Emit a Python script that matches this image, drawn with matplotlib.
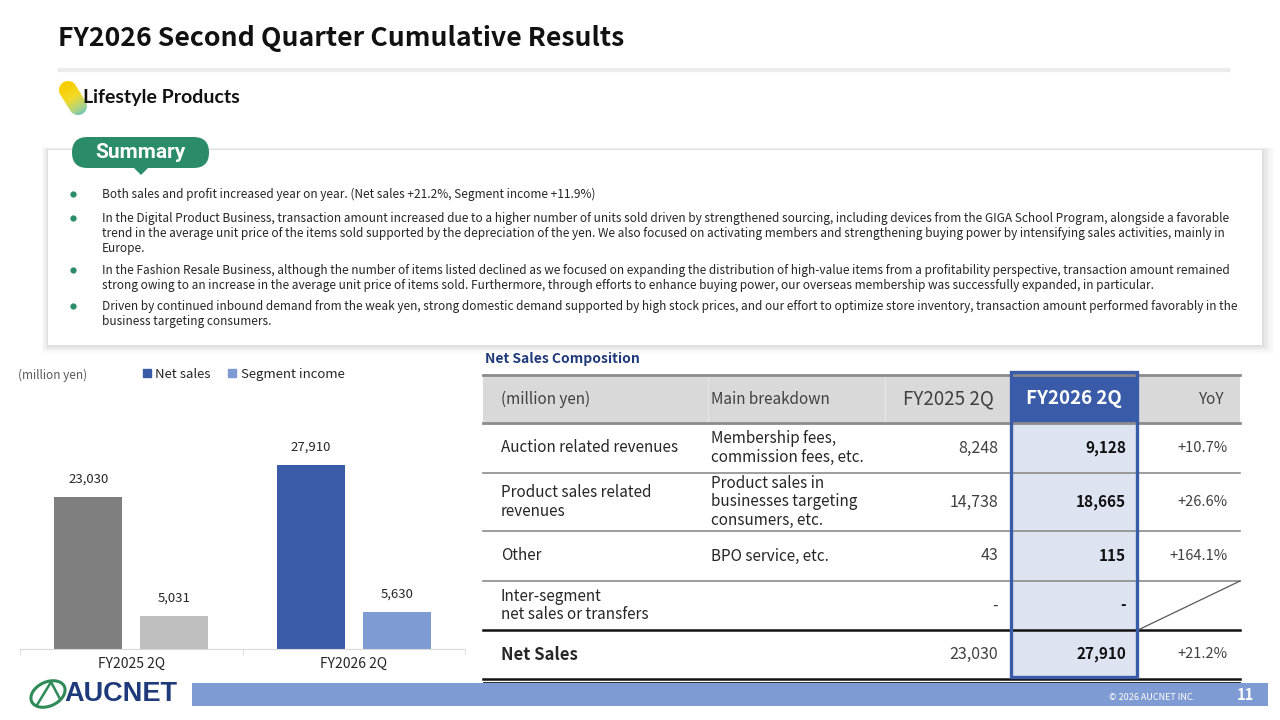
import numpy as np
import matplotlib
matplotlib.use("Agg")
import matplotlib.pyplot as plt
from matplotlib.patches import Rectangle, FancyBboxPatch, Ellipse, Polygon, Patch
from matplotlib.colors import LinearSegmentedColormap

plt.rcParams['font.family'] = ['Noto Sans CJK JP', 'DejaVu Sans']

# ---- data ----
periods = ["FY2025 2Q", "FY2026 2Q"]
net_sales = [23030, 27910]
segment_income = [5031, 5630]

row_labels = ["Auction related revenues", "Product sales related\nrevenues", "Other",
              "Inter-segment\nnet sales or transfers", "Net Sales"]
breakdown = ["Membership fees,\ncommission fees, etc.",
             "Product sales in\nbusinesses targeting\nconsumers, etc.",
             "BPO service, etc.", "", ""]
fy25_vals = ["8,248", "14,738", "43", "-", "23,030"]
fy26_vals = ["9,128", "18,665", "115", "-", "27,910"]
yoy_vals = ["+10.7%", "+26.6%", "+164.1%", "", "+21.2%"]
header = ["(million yen)", "Main breakdown", "FY2025 2Q", "FY2026 2Q", "YoY"]

bullets = [
    "Both sales and profit increased year on year. (Net sales +21.2%, Segment income +11.9%)",
    "In the Digital Product Business, transaction amount increased due to a higher number of units sold driven by strengthened sourcing, including devices from the GIGA School Program, alongside a favorable\n"
    "trend in the average unit price of the items sold supported by the depreciation of the yen. We also focused on activating members and strengthening buying power by intensifying sales activities, mainly in\n"
    "Europe.",
    "In the Fashion Resale Business, although the number of items listed declined as we focused on expanding the distribution of high-value items from a profitability perspective, transaction amount remained\n"
    "strong owing to an increase in the average unit price of items sold. Furthermore, through efforts to enhance buying power, our overseas membership was successfully expanded, in particular.",
    "Driven by continued inbound demand from the weak yen, strong domestic demand supported by high stock prices, and our effort to optimize store inventory, transaction amount performed favorably in the\n"
    "business targeting consumers.",
]
bullet_y = [194, 218, 270, 306]

BLUE = "#3a5ca8"
LBLUE = "#7f9bd3"
GREEN = "#2b8c69"
NAVY = "#1f3a7a"
TXT = "#262626"

fig = plt.figure(figsize=(12.8, 7.2), dpi=100)
ov = fig.add_axes([0, 0, 1, 1])
ov.axis("off")

# ---- header ----
ov.text(58, 39, "FY2026 Second Quarter Cumulative Results", fontsize=19.2, fontweight="bold",
        color="#111111", va="center", ha="left")
ov.plot([58, 1230], [70, 70], color="#ececec", lw=3, solid_capstyle="butt")

# lifestyle logo: capsule with gradient
t = np.linspace(0, np.pi, 30)
c1 = np.array([68, 90]); c2 = np.array([78, 106]); r = 9
d = (c2 - c1) / np.linalg.norm(c2 - c1)
ang = np.arctan2(d[1], d[0])
arc2 = np.column_stack([c2[0] + r * np.cos(ang - np.pi / 2 + t), c2[1] + r * np.sin(ang - np.pi / 2 + t)])
arc1 = np.column_stack([c1[0] + r * np.cos(ang + np.pi / 2 + t), c1[1] + r * np.sin(ang + np.pi / 2 + t)])
cap = Polygon(np.vstack([arc2, arc1]), closed=True, facecolor="none", edgecolor="none")
ov.add_patch(cap)
gx, gy = np.meshgrid(np.linspace(0, 1, 60), np.linspace(0, 1, 60))
g = np.clip((gx * 0.45 + gy * 0.85) - 0.3, 0, 1)
cm = LinearSegmentedColormap.from_list("pill", ["#f7cf00", "#f3da2a", "#a8d38a", "#2fb0ee"])
im = ov.imshow(g, cmap=cm, extent=[56, 90, 118, 78], origin="upper", aspect="auto", zorder=2)
im.set_clip_path(cap)
ov.set_xlim(0, 1280)
ov.set_ylim(720, 0)
ov.text(83, 98, "Lifestyle Products", fontsize=14, fontweight="bold", color="#111111",
        va="center", ha="left", family=["Lato", "DejaVu Sans"])

# ---- summary box ----
for k, a in enumerate([0.015, 0.02, 0.025, 0.03, 0.035]):
    e = 10 - 2 * k
    ov.add_patch(Rectangle((48 - e * 0.6, 150 - e * 0.3), 1214 + e * 1.8, 195 + e * 1.2,
                           facecolor="#000000", alpha=a, edgecolor="none", zorder=1))
ov.add_patch(Rectangle((48, 150), 1214, 195, facecolor="white", edgecolor="none", zorder=2))
ov.add_patch(FancyBboxPatch((72, 137), 137, 31, boxstyle="round,pad=0,rounding_size=15.5",
                            facecolor=GREEN, edgecolor="none", zorder=3))
ov.add_patch(Polygon([[133, 167], [149, 167], [141, 175]], closed=True, facecolor=GREEN,
                     edgecolor="none", zorder=3))
ov.text(140, 152, "Summary", fontsize=15, fontweight="bold", color="white", ha="center",
        va="center", zorder=4, family=["Roboto", "DejaVu Sans"])

for b, y in zip(bullets, bullet_y):
    ov.plot(73, y, "o", color=GREEN, ms=3.5, zorder=4)
    ov.text(102, y - 6, b, fontsize=8.55, color=TXT, ha="left", va="top", linespacing=1.22, zorder=4)

# ---- bar chart ----
ax = fig.add_axes([20 / 1280, 71 / 720, 445 / 1280, 231 / 720])
x = np.arange(len(periods))
off, w = 0.193, 0.306
b1 = ax.bar(x - off, net_sales, w, color=["#7f7f7f", BLUE])
b2 = ax.bar(x + off, segment_income, w, color=["#bfbfbf", LBLUE])
ax.bar_label(b1, labels=[f"{v:,}" for v in net_sales], padding=8, fontsize=9.5, color=TXT)
ax.bar_label(b2, labels=[f"{v:,}" for v in segment_income], padding=8, fontsize=9.5, color=TXT)
ax.set_xlim(-0.5, 1.5)
ax.set_ylim(0, 35000)
ax.set_yticks([])
ax.set_xticks(x)
ax.set_xticklabels(periods, fontsize=10, color=TXT)
ax.tick_params(axis="x", length=0, pad=6)
ax.set_xticks([-0.5, 0.5, 1.5], minor=True)
ax.tick_params(axis="x", which="minor", length=4, color="#d9d9d9", direction="out")
for s in ["top", "right", "left"]:
    ax.spines[s].set_visible(False)
ax.spines["bottom"].set_color("#d9d9d9")
ax.patch.set_alpha(0)

ov.text(18, 375, "(million yen)", fontsize=8.5, color="#595959", ha="left", va="center")
fig.legend(handles=[Patch(color=BLUE, label="Net sales"), Patch(color=LBLUE, label="Segment income")],
           loc="center left", bbox_to_anchor=(131 / 1280, 1 - 374 / 720), ncol=2, frameon=False,
           fontsize=9.5, handlelength=0.6, handleheight=0.6, handletextpad=0.35, columnspacing=1.3,
           labelcolor=TXT)

# ---- table ----
ov.text(485, 359, "Net Sales Composition", fontsize=10, fontweight="bold", color=NAVY,
        ha="left", va="center")
cols = [483, 708, 885, 1010, 1138, 1240]
rows = [423, 473, 531, 581, 630, 679]
top = 375
ov.add_patch(Rectangle((cols[0], top), cols[-1] - cols[0], rows[0] - top, facecolor="#d9d9d9",
                       edgecolor="none", zorder=2))
for cx in cols[1:-1]:
    ov.plot([cx, cx], [top, rows[0]], color="#e4e4e4", lw=1, zorder=3)
ov.add_patch(Rectangle((cols[3], 372), cols[4] - cols[3], rows[0] - 372, facecolor=BLUE,
                       edgecolor="none", zorder=3))
ov.add_patch(Rectangle((cols[3], rows[0]), cols[4] - cols[3], rows[-1] - 2 - rows[0],
                       facecolor="#dde3f1", edgecolor="none", zorder=2))
ov.plot([cols[0], cols[-1]], [top, top], color="#8c8c8c", lw=2, zorder=3)
ov.plot([cols[0], cols[-1]], [rows[0], rows[0]], color="#8c8c8c", lw=2, zorder=3)
for ry in rows[1:4]:
    ov.plot([cols[0], cols[-1]], [ry, ry], color="#8c8c8c", lw=1.2, zorder=3)
ov.plot([cols[0], cols[-1]], [rows[4], rows[4]], color="#111111", lw=1.8, zorder=3)
ov.plot([cols[0], cols[-1]], [rows[5], rows[5]], color="#111111", lw=1.8, zorder=3)
ov.plot([cols[0], cols[-1]], [rows[5] + 2.5, rows[5] + 2.5], color="#111111", lw=0.6, zorder=3)
ov.add_patch(Rectangle((cols[3] + 1, 372), cols[4] - cols[3] - 2, rows[-1] - 2 - 372,
                       facecolor="none", edgecolor=BLUE, lw=2.4, zorder=5))
ov.plot([cols[4], cols[5]], [rows[4], rows[3]], color="#595959", lw=0.9, zorder=3)

hy = (top + rows[0]) / 2
ov.text(501, hy, header[0], fontsize=11, color="#404040", ha="left", va="center", zorder=4)
ov.text(711, hy, header[1], fontsize=11, color="#404040", ha="left", va="center", zorder=4)
ov.text(948, hy, header[2], fontsize=13.5, color="#404040", ha="center", va="center", zorder=4)
ov.text(1074, hy, header[3], fontsize=13.5, fontweight="bold", color="white", ha="center",
        va="center", zorder=6)
ov.text(1212, hy, header[4], fontsize=11, color="#404040", ha="center", va="center", zorder=4)

for i in range(len(row_labels)):
    cy = (rows[i] + rows[i + 1]) / 2
    last = i == len(row_labels) - 1
    ov.text(501, cy, row_labels[i], fontsize=12 if last else 11,
            fontweight="bold" if last else "normal", color=TXT, ha="left", va="center",
            linespacing=1.1, zorder=4)
    ov.text(711, cy, breakdown[i], fontsize=11, color=TXT, ha="left", va="center",
            linespacing=1.1, zorder=4)
    ov.text(998, cy, fy25_vals[i], fontsize=11.5, color="#404040", ha="right", va="center", zorder=4)
    ov.text(1126, cy, fy26_vals[i], fontsize=11, fontweight="bold", color="#111111", ha="right",
            va="center", zorder=6)
    ov.text(1228, cy, yoy_vals[i], fontsize=10.5, color="#404040", ha="right", va="center", zorder=4)

# ---- footer ----
ov.add_patch(Rectangle((192, 683), 1076, 23, facecolor=LBLUE, edgecolor="none", zorder=2))
ov.text(1195, 697, "© 2026 AUCNET INC.", fontsize=6.5, color="white", ha="right", va="center", zorder=3)
ov.text(1245, 695, "11", fontsize=10.5, fontweight="bold", color="white", ha="center", va="center", zorder=3)
ov.add_patch(Ellipse((48, 694), 36, 24, angle=-25, facecolor="none", edgecolor="#2e8b57", lw=2.2, zorder=3))
ov.plot([37, 51, 60], [705, 682, 699], color="#2e8b57", lw=1.8, zorder=3)
ov.text(64, 694, "AUCNET", fontsize=19.5, fontweight="bold", color=NAVY, ha="left", va="center",
        family=["Liberation Sans", "DejaVu Sans"], zorder=3)

fig.savefig("out.png", dpi=100)
